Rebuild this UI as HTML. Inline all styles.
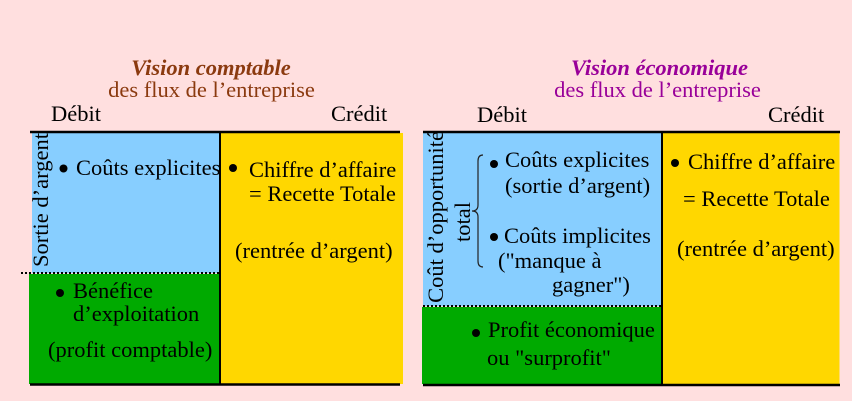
<!DOCTYPE html>
<html><head><meta charset="utf-8">
<style>
html,body{margin:0;padding:0;background:#FFDFDF;}
svg{display:block;}
text{font-family:"Liberation Serif","DejaVu Serif",serif;font-size:22.5px;fill:#000;}
.t1{font-weight:bold;font-style:italic;fill:#8B3A0F;}
.t2{fill:#8B3A0F;}
.p1{font-weight:bold;font-style:italic;fill:#990099;}
.p2{fill:#990099;}
</style></head>
<body>
<svg width="852" height="401" viewBox="0 0 852 401" xmlns="http://www.w3.org/2000/svg">
<rect x="0" y="0" width="852" height="401" fill="#FFDFDF"/>

<!-- LEFT PANEL -->
<rect x="32" y="133" width="188" height="140" fill="#87CEFF"/>
<rect x="29" y="274" width="190" height="110" fill="#00AA00"/>
<rect x="221" y="133" width="182" height="251" fill="#FFD700"/>
<line x1="30" y1="132" x2="400" y2="132" stroke="#000" stroke-width="2.5"/>
<line x1="30" y1="384.5" x2="400" y2="384.5" stroke="#000" stroke-width="2.5"/>
<line x1="220" y1="132" x2="220" y2="384" stroke="#000" stroke-width="2"/>
<line x1="21" y1="273" x2="219" y2="273" stroke="#000" stroke-width="2" stroke-dasharray="2,2"/>

<text class="t1" x="211" y="75" text-anchor="middle">Vision comptable</text>
<text class="t2" x="211.5" y="97" text-anchor="middle">des flux de l’entreprise</text>
<text x="51" y="121">Débit</text>
<text x="331" y="121">Crédit</text>

<text transform="translate(48,200) rotate(-90)" text-anchor="middle">Sortie d’argent</text>

<circle cx="63.5" cy="168.5" r="4" fill="#000"/>
<text x="76" y="175">Coûts explicites</text>

<circle cx="233" cy="168" r="4" fill="#000"/>
<text x="249" y="177">Chiffre d’affaire</text>
<text x="249" y="201">= Recette Totale</text>
<text x="235" y="258">(rentrée d’argent)</text>

<circle cx="60" cy="293" r="4" fill="#000"/>
<text x="73" y="298">Bénéfice</text>
<text x="73" y="321">d’exploitation</text>
<text x="48" y="357">(profit comptable)</text>

<!-- RIGHT PANEL -->
<rect x="423" y="133" width="239" height="173" fill="#87CEFF"/>
<rect x="422" y="307" width="240" height="77" fill="#00AA00"/>
<rect x="663" y="133" width="176.5" height="251" fill="#FFD700"/>
<line x1="423" y1="132" x2="840" y2="132" stroke="#000" stroke-width="2.5"/>
<line x1="423" y1="385" x2="840" y2="385" stroke="#000" stroke-width="2.5"/>
<line x1="662" y1="132" x2="662" y2="385" stroke="#000" stroke-width="2"/>
<line x1="423" y1="306" x2="661" y2="306" stroke="#000" stroke-width="2" stroke-dasharray="2,2"/>

<text class="p1" x="659.5" y="75" text-anchor="middle">Vision économique</text>
<text class="p2" x="657.5" y="97" text-anchor="middle">des flux de l’entreprise</text>
<text x="477" y="122">Débit</text>
<text x="768" y="122">Crédit</text>

<text transform="translate(443,217) rotate(-90)" text-anchor="middle">Coût d’opportunité</text>
<text transform="translate(470,222) rotate(-90)" text-anchor="middle">total</text>

<path d="M483,155 Q478,155 478,161 L478,205 Q478,211 472,211 Q478,211 478,217 L478,261 Q478,267 483,267" fill="none" stroke="#222" stroke-width="1.2"/>

<circle cx="494" cy="164" r="4" fill="#000"/>
<text x="505" y="167">Coûts explicites</text>
<text x="505" y="193">(sortie d’argent)</text>
<circle cx="494" cy="237" r="4" fill="#000"/>
<text x="504" y="243">Coûts implicites</text>
<text x="498" y="268">("manque à</text>
<text x="552" y="292">gagner")</text>

<circle cx="675" cy="163" r="4" fill="#000"/>
<text x="688" y="169">Chiffre d’affaire</text>
<text x="683" y="206">= Recette Totale</text>
<text x="677" y="256">(rentrée d’argent)</text>

<circle cx="476" cy="333" r="4" fill="#000"/>
<text x="488" y="337">Profit économique</text>
<text x="487" y="365">ou "surprofit"</text>
</svg>
</body></html>
